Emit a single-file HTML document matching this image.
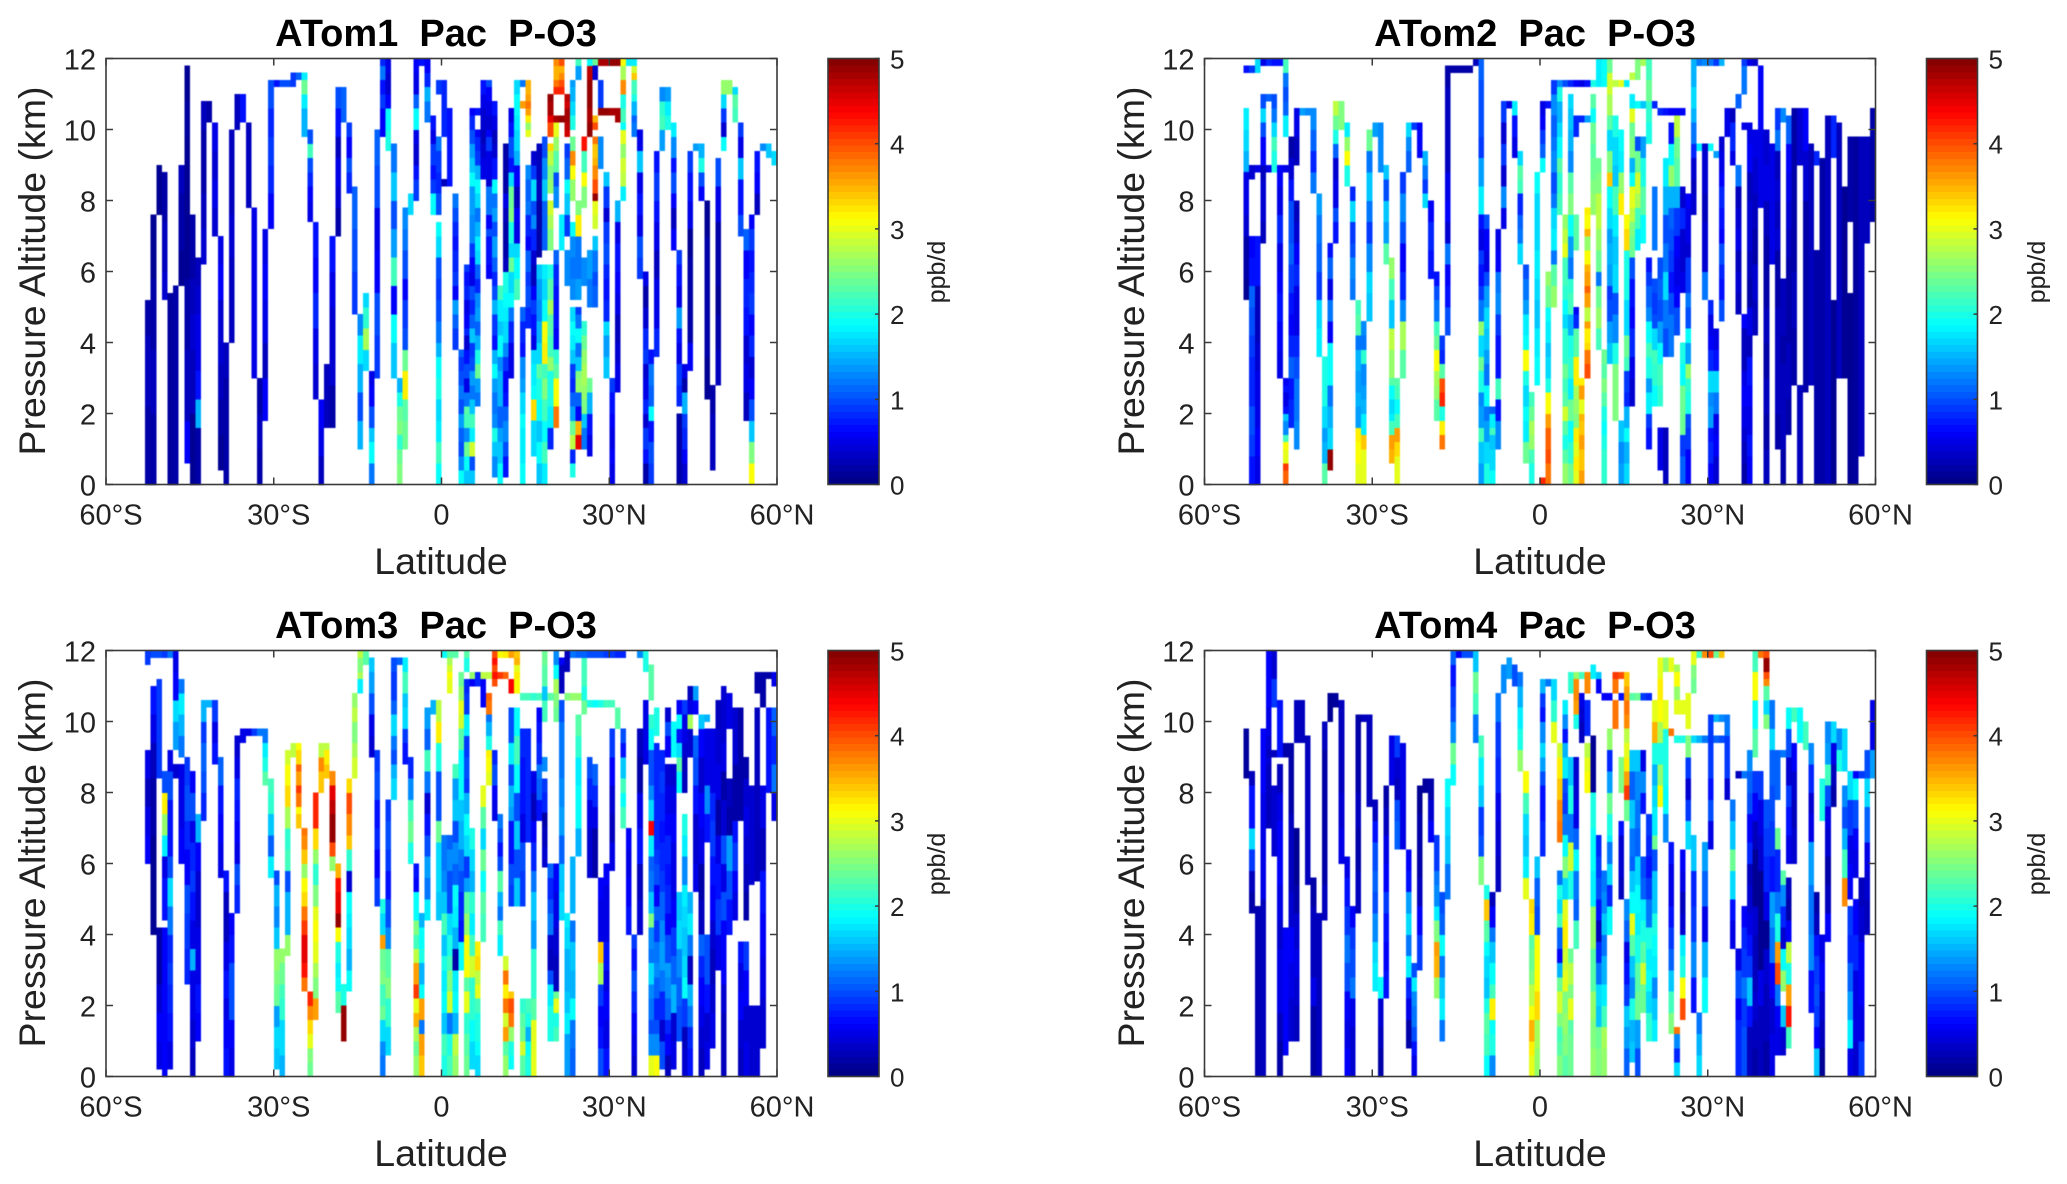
<!DOCTYPE html>
<html lang="en">
<head>
<meta charset="utf-8">
<title>ATom Pacific P-O3 latitude-altitude curtains</title>
<style>
html,body{margin:0;padding:0;background:#fff;width:2067px;height:1184px;overflow:hidden}
svg{display:block}
text{font-family:"Liberation Sans",Arial,sans-serif;fill:#222}
.title{font-weight:bold;font-size:38px;fill:#000;text-anchor:middle;white-space:pre}
.axis-title{font-size:37.5px;text-anchor:middle}
.cb-title{font-size:25px;text-anchor:middle}
.tick{font-size:29px}
</style>
</head>
<body>
<svg id="figure" xmlns="http://www.w3.org/2000/svg" width="2067" height="1184" viewBox="0 0 2067 1184">
  <rect width="2067" height="1184" fill="#fff"/>
  <g id="panel-0">
    <text class="title" x="436" y="46" xml:space="preserve">ATom1  Pac  P-O3</text>
    <text class="axis-title" x="441" y="574">Latitude</text>
    <text class="axis-title" transform="translate(45 271) rotate(-90)">Pressure Altitude (km)</text>
    <text class="cb-title" transform="translate(945 272) rotate(-90)">ppb/d</text>
  </g>
  <g id="panel-1">
    <text class="title" x="1535" y="46" xml:space="preserve">ATom2  Pac  P-O3</text>
    <text class="axis-title" x="1540" y="574">Latitude</text>
    <text class="axis-title" transform="translate(1144 271) rotate(-90)">Pressure Altitude (km)</text>
    <text class="cb-title" transform="translate(2045 272) rotate(-90)">ppb/d</text>
  </g>
  <g id="panel-2">
    <text class="title" x="436" y="638" xml:space="preserve">ATom3  Pac  P-O3</text>
    <text class="axis-title" x="441" y="1166">Latitude</text>
    <text class="axis-title" transform="translate(45 863) rotate(-90)">Pressure Altitude (km)</text>
    <text class="cb-title" transform="translate(945 864) rotate(-90)">ppb/d</text>
  </g>
  <g id="panel-3">
    <text class="title" x="1535" y="638" xml:space="preserve">ATom4  Pac  P-O3</text>
    <text class="axis-title" x="1540" y="1166">Latitude</text>
    <text class="axis-title" transform="translate(1144 863) rotate(-90)">Pressure Altitude (km)</text>
    <text class="cb-title" transform="translate(2045 864) rotate(-90)">ppb/d</text>
  </g>
</svg>
<script>
// Segment format: [latitude, altitude low (km), altitude high (km), P-O3 value(s) in ppb/d, low to high]
const latTickValues = [-60, -30, 0, 30, 60];
const latTickLabels = ["60°S", "30°S", "0", "30°N", "60°N"];
const altTickValues = [0, 2, 4, 6, 8, 10, 12];
const colorTickValues = [0, 1, 2, 3, 4, 5];

const atom1Segments = [
[-53,0,5.2,[.2,.2,.3,.3,.2]],[-52,0,7.6,[.2,.2,.3,.3,.2,.2,.1,.1]],[-51,7.6,9,.1],[-50,5.2,8.8,[.4,.3,.3,.2,.2]],[-49,0,5.4,.15],[-48,0,5.6,.2],
[-47,5.6,9,[.1,.2,.2,.3]],[-46,.6,11.8,[.6,.3,.3,.2,.2,.1,.1,.1,.1,.15,.1]],[-45,0,7.6,[.1,.1,.3,.3,.4,.3,.2,.2]],[-44,0,6.4,[.2,.2,1.5,.7,.5,.5,.4,.3]],
[-43,6.2,10.8,[.4,.3,.2,.2,.3]],[-42,10.2,10.8,.2],[-41,7,10.2,[.4,.5,.4,.5]],[-40,.4,7,[.1,.2,.3,.4,.4,.6,.5]],[-39,0,4,[.2,.2,.2,.3]],[-38,4,10,[.3,.3,.4,.3,.3]],
[-37,10,11,.3],[-36,10.2,11,.7],[-35,7.8,10.2,.3],[-34,3,7.8,.5],[-33,0,3,[.2,.3,.2]],[-32,1.8,7.2,[.6,.3,.5,.6,.5]],[-31,7.2,11.4,[.6,.8,.9,.8,1]],
[-30,11.2,11.4,.7],[-29,11.2,11.4,1],[-28,11.2,11.4,1],[-27,11.2,11.6,.9],[-26,11.4,11.6,1.1],[-25,9.8,11.6,[1.5,1.5,1.8,2.4,1.8]],[-24,7.4,10,[.5,.6,.8,1,2.2,1]],
[-23,2.4,7.4,[.4,.5,.8,.6,.7]],[-22,0,2.4,[.3,.5,.6]],[-21,1.6,3.4,.3],[-20,1.6,7,[.2,.4,.4,.5,.7]],[-19,7,11.2,[.2,.4,.5,.3,.7,1]],[-18,10.2,11.2,1.1],
[-17,8.2,10.2,[.8,1,.6,.9]],[-16,4.8,8.4,[.9,1,1.1]],[-15,1,4.8,[1.5,1,1.5,1.8,1.3]],[-14,3.2,5.4,[1.7,2.7,2.1,1.7]],[-13,0,3.2,[1.2,1.9,1.6,1,.6,.5]],
[-12,3,10,[.9,1,.6,.5,1,1.1]],[-11,9.8,12,[.6,.6,.9,.7,1.2,.8]],[-10,9.4,12,[2,1.9,.6,.4,.5]],[-9,3,9.6,[1.6,1.9,.6,2.2,1.4,1,1.6,1.2]],[-8,0,3,[2.5,2.4,2.1,2.5,2.4,2,1.5]],
[-7,1,7.8,[2.4,2.3,3.2,2.4,1,.9,.6,1,1.2,1.3]],[-6,7.6,8.2,1.7],[-5,8,12,[.9,.7,.4,.5,1.9,1.1,.5,.6]],[-4,11.8,12,.7],[-3,10.2,12,[1.2,1.5,.8,.6]],[-2,7.6,10.4,[1.9,.9,.7,.9,.5,.7]],
[-1,0,7.4,[1.9,2.2,1.8,1.7,2,1.9,1.5,1.2,1,.9,1,1.7,1.9]],[-1,7.6,9.8,[1,.8,.9,1.2]],[-1,11,11.4,.9],
[0,8.4,8.6,.3],[0,9.8,11.4,.8],[1,8.4,10.6,.7],[2,3.8,8.2,[.9,1.1,1.4,.6,.9,.8,.7,.8,1,1.2]],[3,0,3.8,[1.9,1.3,1,1.1,1.4,1,1.2,1,.9,1.1]],
[4,0,6.2,[1.6,1.9,2.4,1.3,2.2,2.3,1.2,.5,1,.7,.4,.8,.6,.5,.8,.7,.9]],[5,0,10.6,[1.6,1,2.9,1.8,2.2,1.6,1.2,1.4,1,.9,1.6,1.1,.8,1,.5,.6,.9,1.3,1.3,1.4,1.4,1.9,1.6,1.4,1,.8,.6]],
[6,2.2,10,[1.2,1.4,2.4,2,1.5,1.1,1.4,1.3,.8,1.1,1.7,1.8,1.5,1.2,1.7,1.9,1.5,.9,.8,.6]],[6,10.4,10.6,.7],[7,8.6,11.4,[.5,.4,.3,.4,.5,.7]],
[8,5.8,11.4,[.6,.7,.7,1,.6,1.2,1.2,.4,.5,.5,.9,.6,.4,.5,.6,1]],[9,.2,10.8,[1.3,1.6,2,1.3,1.2,1.4,1.9,1.5,.7,.9,1.5,1,.8,1.1,1.4,1,1.4,1.2,1.9,.7,.4,.3,.5,.7]],
[10,0,5.6,[1.9,1.6,1.4,1.1,1.5,1.5,1.3,1.9,1.6,1.8,2.2]],[11,.2,9.6,[.7,1,1.3,1.1,.7,.6,.9,1.3,1.7,1.8,1.9,2,.3,.2,.2,.3,.5,.2,.2,.2]],
[12,3,10.6,[.5,.5,.8,1.2,1.9,1.7,2.4,1.7,2,2.5,2.4,1.7,.7,1,.7,.5]],[13,5.2,11.4,[2.2,1.9,1.7,.5,.6,.3,.6,1.5,1.7,1.8,1.9,1.7]],
[14,0,5,[1.9,1.8,1.8,1.9,1.7,1.4,1.3,.7,.8,1.1]],[14,10.6,10.8,3.6],[14,11.2,11.4,1.2],[15,4.4,9,[.8,1,.9,1.1,.6,.8,1.2,1.1,1.3]],[15,9.8,11.4,[3,2.6,3.2,3.6,3.8,3.6,3.5,3.5]],
[16,1.8,9.4,[3.3,1.9,1.8,1.7,.5,.7,.9,.6,.3,.4,.8,1.3,1,1.7,.9,.4]],[16,0.8,1.8,1.7],
[17,6.4,9.6,[.2,.2,.3,.3]],[17,0,6.2,[1.6,1.9,1.6,1.9,2,2.3,1.7,1.5,1.3,1.4,1.6]],[18,6.6,9.8,[1.1,1.1,1.6,1.3,1]],[18,0,6.2,[1.8,2.2,1.9,2.2,2.5,2.2,3.2,3.1,1.9,1.7,1.8]],
[19,9.8,11,[4,4.5,4.8,4.8,4.9]],[19,8.2,9.6,[2.6,2.5,2.8,3.3]],[19,6.6,8,[2.5,2.7,2.9]],[19,1,6.2,[.8,1.8,2,2,2.6,2.2,2.3,2.7,2.3,2]],
[20,11,12,[4.2,3.8,3.5,3.5,3.7]],[20,10.2,10.4,4.8],[20,7.8,10.2,[1.3,1,2.3,2.6,3]],[20,3.8,6.6,[.6,.7,.7,.8,1.1]],[20,1.6,3.8,[3.8,3.1,3.1,2.3,2.1]],
[21,11,12,[4.2,4,3.7,3.5,4]],[21,10.2,10.4,4.9],[21,6.6,7.6,1.8],[22,9.8,11,[4.6,4.7,4.8,4.8,4.6,4.7]],[22,7,9.6,[.9,1.6,1.9,1.1,.9]],[22,5.6,6.6,1.3],
[23,10,11.4,[2,1.7,1.5,1.4]],[23,8,9.8,[2.6,3.1,3.7,2.4]],[23,5.2,7.4,[1.3,1.2,1.3,1.9]],[23,.2,5,[2,.8,2.8,2.4,1.4,1.1,.8,.9,1.6,1.8,1.9,1.7]],
[24,11.4,12,[1.4,2.2]],[24,5.2,8,[1.4,1.2,1.2,3.2,2.5]],[24,1,5,[4.5,3.5,.6,1.1,2.6,2.5,1.6,1.2,1.9,1.2,.9]],
[25,7.8,9.8,[2.5,3.1,2.2,4.3]],[25,5.6,6.4,1.3],[25,1,4.6,[1.2,1.6,2.5,2.6,2.7,2.6,2.4,2.1]],
[26,9.8,11.8,[4.9,4.8,4.9,4.9,4.7]],[26,11.8,12,1.9],[26,5,6.6,[1.2,1.4]],[26,.8,3,[.5,.7,1.5,2.4]],
[27,11.8,12,2.4],[27,11.4,11.8,.4],[27,10,10.4,[4,3.5]],[27,7.2,9.8,[2.9,3,4.9,4,3.7,3.5,3.4,3.8]],[27,5,7,[1.1,1,1.2,1.6]],
[28,11.8,12,4.8],[28,10.4,11.4,.9],[28,10.4,10.6,4.9],[28,8.9,9.8,1.3],[29,11.8,12,4.8],[29,10.4,10.6,4.9],[29,3,8.8,[1.6,1.4,1.7,.8,.7,.8,1,.9,.4,.9,1.6]],
[30,11.8,12,4.9],[30,10.4,10.6,4.8],[30,0,3,[.5,.6,.5,.6,.7,.9]],[31,11.8,12,4.9],[31,10.2,10.6,4.8],[31,2.6,8,[.5,.4,.3,.5,.6,.7,.5,1.5]],
[32,8.4,12,[2.8,2.9,2.6,3,1.9,2.2,2,3.7,2.7,3.1]],[32,8,8.4,1.8],[33,11.8,12,1.8],[34,9.8,11.8,[1.2,1.1,1.5,2,2.2,3.4,2.9]],[34,11.8,12,1.8],
[35,5.8,10,[.9,1,.5,.7,.5,1.6,.5]],[36,3.8,6,[.8,.4,.2,.5]],[36,0,3.8,[.2,.7,.9,.4,.8,.5,.4,.9]],[37,0,3.8,[.9,1,.7,1.9,1.1,1.2,.7]],
[38,3.6,9.4,[.8,.5,.5,.3,.5,.7,.9,.7]],[39,9.4,11.2,[1.4,2.2,2.1,1.3]],[40,10,11.2,[2,1.8,1.4]],[41,6.6,10.2,[.6,.3,.6,1,.7,1.3,1.8]],
[42,2.2,6.6,[.8,.9,.5,.7,1.4,.5,.7,.9]],[42,0,2,.2],[43,0,3.4,[.4,.6,.8,.9,1.5,.2,.5]],[44,3.2,9.4,[.6,.2,.2,.2,.1,.5,.7,.9]],[45,9.4,9.6,1.4],
[46,8,9.6,[.6,1,2,1.5]],[47,2.4,8,[.1,.2,.2,.2,.1]],[48,.4,2.8,[.3,.3,.2]],[49,2.8,9.2,[.3,.2,.1,.2,.2,.5,1]],[50,9.4,11.4,[1.9,.4,.9,1.7,2.6]],
[51,11,11.4,2.6],[52,10.2,11.2,[2.2,2.3,1.7]],[53,7,10.2,[1,.7,.7,1.6,.5,.9]],[54,1.8,7.2,[.3,.5,.4,.7,.8,.6,1.1]],
[55,0,7.6,[3.1,2.5,1.6,1,.6,.4,.8,.6,.9,.8,.7,.9,.6]],[56,7.6,9.4,[.3,.6,.7]],[57,9.4,9.6,1.3],[58,9.2,9.6,1.6],[59,9,9.4,1.7]
];

const atom2Segments = [
[-53,11.6,11.8,.7],[-53,8.8,10.6,[1.5,1.7,1.8]],[-53,5.2,8.8,[.1,.2,.2,.4,.5,.5]],[-52,8.6,9,.4],[-52,11.6,11.8,.9],[-52,0,7,[.7,.9,1,.8,.8,.9,1,1.1,.7,.6]],
[-51,0,7,[.5,.6,.5,.5,.4,.3,.3,.7,.7]],[-51,8.8,9,.5],[-51,11.6,12,1.7],[-50,6.8,11,[.3,.4,.4,.4,.3,.6,.6,1,1.7,1]],[-50,11.8,12,.5],[-49,10.8,11,1.1],[-49,11.8,12,.8],[-49,8.8,9,.5],
[-48,8.8,11,[2,2.2,1.7,1.2,1]],[-48,11.8,12,.7],[-47,3,9,[.5,.6,.7,.6,.5,.8,.5,.6]],[-47,11.8,12,.7],[-46,9.8,12,[1.8,1.1,1,1.2,2.2]],[-46,8.8,9,.5],
[-46,0,3,[3.9,4.1,3,3.1,2.2,1.3,1.6,.7,.5,.7,.6]],[-45,1.6,9.8,[.8,.7,1.1,.8,.6,.7,.9,1.1,1,1,.7,.4,.2]],[-44,1,8,[1.3,1.2,1.2,1,.8,.5,.5,.8,.6,.4,.3]],[-44,9,10.6,[.3,.3,.5,.5]],
[-43,10.4,10.6,1.4],[-42,10.4,10.6,1.3],[-41,8.2,10.6,[1.2,.8,1.1,1.3]],[-40,3.6,8.2,[1.8,1.7,.9,1.1,1.2,1.4]],[-39,0,3.6,[2.3,1.5,1.4,1.7,2,2,2]],
[-38,.4,6.8,[4.9,1.7,1.5,1.2,1.9,1.9,.6,1.2,.5,1.1,.7]],[-37,6.8,10.8,[.7,1,.5,.5,.4,1.1,2,2.4,2.8]],[-36,10,10.8,2.5],[-35,8.4,10.2,[2,3.1,2.6,1.8]],[-34,5.2,8.4,[1.2,1.3,1,.9,1.7,.8]],
[-33,0,5.2,[3,3.1,3.2,1.4,1.5,1.4,1.5,1.2,2.3,2.2]],[-32,0,4.6,[3,3,3.4,1.8,1.5,1.4,1.3,2.1,1.2,1.3]],[-31,4.6,10,[1.6,1.7,1.3,.9,1.2,1.6,1.2,2.4]],[-30,9.8,10.2,1.4],[-29,8.8,10.2,1.3],
[-28,6.2,9,[2.3,1.4,1.6,1,1.6]],[-27,3,6.4,[2.6,2.8,1.6,2.2,2.6]],[-27,.6,3,[3.5,3.6,2.2,1.8,1.7,1.9,2.3]],[-26,0,3,[3,3,3.3,3.6,2.2,1.9,2.2,2.3]],[-25,3,8.8,[2.3,2.7,1.3,.8,.6,1,1.3,.9]],
[-24,8.8,10.2,[1.1,1.3,1.7]],[-23,10,10.2,.9],[-22,9.2,10.2,.6],[-21,7.8,9.4,[1.7,.9,1.2,1.5]],[-20,5.8,8,[.7,.8,.6]],[-19,1.8,6,[2.3,2.6,2.7,3.1,2.4,2.2,1.2,1,.7]],
[-18,1,4.2,[3.8,3.2,2,4.2,4,2.3,.8,.9]],[-17,4.2,11.8,[1,.7,.6,1.2,.4,.6,.5,.3,.3,.3,.3,.2]],[-16,11.6,11.8,.2],[-15,11.6,11.8,.2],[-14,11.6,11.8,.2],[-13,11.6,11.8,.2],[-12,11.8,12,.3],
[-11,7.6,12,[1.8,1.4,.9,1,1,1.1]],[-11,0,7.6,[1.4,1.6,2.2,1.4,1.3,2,2.4,1.7,2.6,1.2,.9,.7,.9,.5,.7]],[-10,0,7.6,[2,1.7,1.4,1.2,1.9,1.2,1.4,1.6,1.7,1.4,1,.5,.6,1]],
[-9,0,2.2,[1.9,1.7,1.7,1.6,2.2,1.8,1.1]],[-8,1,7.2,[1.3,.7,2.2,.7,.7,.9,1.3,1.2,.6,.5]],[-7,7.2,10.8,[.5,1.3,.4,.9,.4,.9]],[-6,10.6,10.8,.5],[-5,9.2,10.8,[.5,.7,1.8]],
[-4,6.2,9.4,[1.7,1.2,1.1,.8,2.2,2.3,1.7]],[-3,.6,6.2,[2.4,1.8,1.9,1.7,2,3.1,1.9,1.8,1.4,1.2,1]],[-2,0,2.6,[2,2.2,2.6,2.7,2.4,2.2]],[-1,2.8,8.8,[1.9,1.8,1.6,1.7,1.8,1.7,1.7,1.9]],
[0,8.8,10.8,[1.9,1.1,.9,.6,.5]],[0,0,.2,4.2],[1,0,6,[3.8,4,3.9,3.6,3.1,2,1.7,1.6,1.8,1.9,2.4,2.6]],[1,10.6,10.8,.7],[2,5,11.4,[2.6,2.3,1.2,1.8,1.7,1.2,1,1.3,1.2,1.1,1.3,.9]],
[3,7.6,11.2,[2.2,2.1,2.3,1.9,1.7,1.5,2]],[4,0,7.6,[2.6,2.3,2,2.3,2.9,2.3,2.2,2.4,2.1,2.1,1.7,1.9,2.1,2.2,2.2,3,2.8,2.6]],[3,11.2,11.4,1.3],[4,11.2,11.4,1],
[5,0,11,[2.4,2.1,1.9,2.4,1.8,2.1,2,1.5,2.2,2.1,1.2,1.4,1.9,2.5,2.3,1.3,1.5,1.6,1.7]],[5,11.2,11.4,.8],[6,0,5,[3,3.2,3,3.2,2.5,2.6,2.7,3.2,3.2,2.3,2.3,.8,.6]],[6,9.8,10.4,.8],[6,6.6,7.6,2.3],[6,11.2,11.4,.6],
[7,0,3,[3.6,3.4,3.4,3.6,3.4,3.5,3,3.6,3.2]],[7,10.2,10.4,.8],[7,11.2,11.4,.5],[8,3,7.8,[4,3.8,3.3,3.2,3.6,2.8,3.6,3.9,3.6,3.5,3.1,2.6,3.5,3.1,3.2]],[8,10.2,10.4,1.4],[8,11.2,11.4,.7],
[9,7.6,11,[2.6,2.5,2.4,2.3,2.4,1.9,2.3]],[9,11.2,11.4,2],[10,3.8,9.2,[2.2,2.6,2.4,1.2,2.4,2.6,2.8,2.8,2.5,2.4]],[10,11.2,12,1.8],[11,0,3.8,[2.1,2.1,2,1.9,2,2.3,2.5,2.3,2.4]],[11,11.2,12,1.9],
[12,3.4,12,[1.6,1.4,1,.9,1.4,1.5,1.4,1.7,1.9,3.4,2.5,1.7,2.3,2.7,2.9,2.4]],[13,1.8,10.4,[2.5,2.5,2,1.3,1,1.7,1.6,1.8,2.2,1.6,1.7,2]],[13,11.2,11.4,2.8],[14,0,1.8,[1.4,1.3,1.6]],[14,7.6,10,[3.2,2.6,1.8,1.9]],[14,11.2,11.4,3],
[15,0,7.6,[1.7,1.5,1.9,1.5,.8,.9,2.2,2.4,1.7,1.7,2,2,2,3.3,3.1]],[15,11.2,11.4,1.8],[16,6.4,11,[2.4,2.5,2.8,3,1.9,1.5,2.5,2.4,3,1.8]],[16,2.2,6.4,[.4,.5,.8,.6,.7,1]],[16,11.4,11.6,2.8],
[17,6.6,9.8,[1.8,2.2,2.7,2.9,2.4,1]],[17,11.4,12,2.5],[17,10.6,10.8,1.9],[18,6.8,9.8,[1.9,2.3,2,1.4]],[18,11.8,12,2.7],[18,10.6,10.8,1.6],[19,9.6,12,[2,2.1,2.4,2.2]],[19,1,6.4,[.7,.9,1.8,1.4,2,2.2,1.9,1.3,1.1,.9,.7]],
[20,6.6,8.4,1.2],[20,2.2,5.8,[1.9,2.1,2.2,1.7,1,.9,1]],[20,10.6,10.8,.8],[21,2.2,6.4,[2.1,2.2,1.9,1.4,1,1.1,1]],[21,.4,1.6,.5],[21,10.4,10.6,.8],[22,3.6,9.2,[1,1.2,1.7,1.2,1,1.5,1.8]],[22,0,1.6,.3],[22,10.4,10.6,.7],
[23,3.6,10.2,[1.2,1.2,1,.7,.9,1,1.1,1.5,2.6,1.9,.7]],[23,10.4,10.6,.6],[24,7,10.4,[.9,1.5,2.3,2.4,2.8]],[24,4.2,7,[1,.6,.5,.6]],[24,10.4,10.6,.6],[25,5.4,8.4,[.5,.4,.4,.8,.4]],[25,0,4,[1.1,.9,2.4,2.4,1.9,2]],[25,10.4,10.6,.6],
[26,0,8.2,[.6,.6,.9,1,2,2.1,2.6,1.4,1.9,1,1.2,.9,.9,.4,.5,.5,.6]],[27,7.6,12,[.4,.3,.4,.8,1.2,1.5,1.7,1.5,1.5]],[28,11.8,12,1.2],[28,9.4,9.6,1.8],[29,5.2,9.6,[1.2,.4,.4,.3,.4,.4]],[29,11.8,12,1.3],
[30,0,5.2,[.6,.8,.7,1.4,1.3,1.7,.8,.6,.5,.8]],[30,11.8,12,1.2],[30,9.4,9.6,1.9],[31,0,4.4,[.4,.6,.5,1.2,1.7,.7,.5]],[31,11.8,12,.9],[31,9.2,9.4,1.4],[32,4.6,9.8,[1,.7,.8,1,.6,.7,.8,.6,.5,.4]],[32,11.8,12,1.5],
[33,9.8,10.6,.5],[34,9,10.6,[.5,.8,.8,.3]],[35,10.6,11,1.1],[35,4.8,9,[.3,.4,.3,.5,.4,.3,1.2]],[36,11,12,[1.2,1.2,1.2,.9]],[36,10,10.2,.5],[36,0,4.8,[.2,.3,.4,.5,.6,.5,.3,.3,.6]],[37,11.8,12,.5],
[37,4.2,10.2,[.5,.2,.3,.4,.4,.3,.6,.5]],[37,0,4.2,[.6,.7,.5,.6,.7,.3]],[38,11.8,12,.4],[38,4.2,10,[.3,.4,.2,.3,.4,.5]],[39,10,11.8,.6],[39,7.8,10,.5],[40,0,10,[.3,.2,.3,.2,.3,.2,.2,.3,.5,.4]],
[41,6.2,9.6,.5],[42,5.8,10.6,[.2,.4,.3,.4,.3,1.2,.9]],[42,1,5.8,[.2,.3,.3,.3,.2]],[43,0,5.8,[.2,.3,.3,.3,.2,.3,.3]],[43,10.2,10.6,1.3],[44,1.4,10.4,[.2,.3,.3,.2,.2,.2,.3,.4,.5,.6,1.1]],
[45,2.8,10.6,[.2,.3,.2,.2,.2]],[46,9,10.6,.4],[46,0,2.8,.3],[47,2.6,10.6,[.2,.2,.2,.2,.4,.6]],[48,2.8,9.6,.3],[49,0,6.6,.2],[49,9,9.4,.8],[50,0,9.2,.2],[51,0,10.4,.3],[52,9.2,10.4,.8],[52,0,5.2,.1],
[53,3,10.2,.3],[54,3,8.4,.1],[55,0,5.4,.1],[55,7.4,9.8,.2],[56,0,9.8,.15],[57,.8,9.8,.3],[58,6.8,9.8,.3],[59,7.4,10.6,.2]
];

const atom3Segments = [
[-53,11.6,12,.9],[-53,6,9.2,[.6,.5,.3,.5]],[-52,11.8,12,1],[-52,4,11,[.1,.1,.1,.2,.2,.3,.5,.7]],[-51,11.8,12,1],[-51,8.4,11.2,.9],[-51,.2,4.2,[.5,.6,.4,.2,.2]],[-50,11.8,12,.9],
[-50,4.4,8.6,[.7,.7,.5,1.8,2.6,3.2,1]],[-50,0,4.2,.6],[-49,.2,9.2,[.5,.7,.8,.9,.8,1.2,1.7,1,.7,.7,1,.5]],[-49,11.8,12,1.2],[-48,9.2,12,[1.4,1.7,.6,.5]],[-48,8.4,8.8,.4],
[-47,9,11.2,[1.2,1.5,1.8,1.2]],[-47,6,8.8,[.6,.5,.5]],[-46,2.6,9,[.8,.9,1,.6,.8,1,.9]],[-45,0,8.6,[.3,.4,.5,.5,1.5,.5,.7,.9,.8,.5,1,.6]],[-44,1,7.4,[.6,.7,.5,.5,.4,.4,.6,1.5]],
[-43,7.2,10.6,[.8,1,1.1,.9,1.5]],[-42,10.4,10.6,1.5],[-41,8.8,10.6,[.7,.5,.9]],[-40,5.6,9,[.5,.6,.7,1.1]],[-39,0,5.8,[.7,.6,.5,.7,.5,.3,.3,.7]],[-38,0,4.6,[.5,.6,1,1,.7,.6]],
[-37,4.6,9.6,[.8,1,.5,.6,.7,.8,.5,.4]],[-36,9.4,9.8,.5],[-35,9.6,9.8,.5],[-34,9.6,9.8,.9],[-33,9.6,9.8,1.2],[-32,8.2,9.8,[2.3,2,1.8,1.2]],[-31,5.6,8.4,[1.8,1.1,1.6,2.1,2.2]],
[-30,.2,5.8,[1.6,1.7,1.4,2.4,2.5,2.6,1.6,1.3,1.5,1]],[-29,0,3.6,[1.5,1.7,1.7,2.1,2.2,2.4,2.6]],[-28,3.4,9.2,[2.6,1.5,1.5,1,2.2,2.1,2.7,3.3,3.1,2.9]],[-27,9,9.4,2.8],
[-26,7,9.4,[3.4,3.1,3.8,4.1,3.6,3.9,3.3,3.1]],[-25,2.4,7,[3.8,4.3,4.5,4.5,4.1,3.8,3.3,3.1,2.6,3.4,3.7,3.8]],[-24,0,2.4,[2.4,2.5,3,3.3,3.7,4.2]],
[-23,1.6,8,[3.6,2.5,2.7,3,3.1,3,2.5,2.1,2.6,3.3,4.2,4.2]],[-22,8,9.4,[3.4,3.7,2.8]],[-21,8.4,9.4,[3.4,3.2,2.8]],[-20,5.8,8.6,[2.6,4,4.9,4.9,4.7,4.5,3.7]],
[-19,1.8,6,[2.3,1.9,1.8,2,3.1,4.9,4.5,4.3,3.5]],[-18,2,2.6,2],[-18,1,2,4.9],[-17,2.4,8.4,[1.9,1.5,1.7,1.8,1.9,.4,2.1,3.4,3.7,4,3.3]],[-16,8.4,10.8,[2.9,2.7,2.5,2.8,2.6]],
[-15,10.8,12,[1.8,2.7,2.5,2.8]],[-14,11.6,12,2.3],[-13,9,11.8,[.4,.5,1,1.4,1.6]],[-12,4.8,9.2,[.9,.6,.8,.7,1,.9]],[-11,0,5,[1.2,1.3,1.7,2.4,2.2,2.5,2.4,3.6,1.7,2]],
[-10,.6,7.8,[1.7,2.1,2.5,2.3,1.3,1,.7,.9,1,.9]],[-9,7.8,11.8,[1.7,1.5,1,1.2,1.7,1.1,.9,.9,1]],[-8,11.6,11.8,1.1],[-7,8.8,11.8,[.7,.9,1.7,1.6,2.2,1.8]],[-6,6,9,[2,2.4,2.2,1.3,.8]],
[-5,0,5.2,[2.6,2.4,2.7,3.5,3,4.1,3.6,2.8,2.2,2.5,1.9,1.9]],[-5,5.2,6,[.6,.7]],[-4,0,4.6,[3.4,3.6,1.2,3.6,1.9,1.5,2,1.9,1.5]],[-3,4.4,10.4,[1.8,1.2,1.4,1,.7,.4,1.2,2.2,1.1,1.4]],
[-2,10.2,10.6,1.5],[-1,4.4,10.6,[1.6,1.7,1.7,2.4,1,1,2,3.2,2.8]],[0,0,6.8,[2,2.2,1.6,1.9,1.8,2,1.6,2.2,1.6,1.3,1.2,1.2]],[0,11.8,12,1.9],[1,10.8,12,[3,3,3.1,2.9,2.7,2.3]],
[1,0,6.8,[2.2,2,1.2,2.9,2.5,2.2,2,1.7,1,1,1.3,1.1]],[2,0,8.8,[2.6,2.8,1.5,1.9,1.8,.2,1.5,1.8,1.9,1.1,1.3,1,1.6,1.4,2.2]],[2,11.8,12,2.3],
[3,9.8,11.4,[2.9,3,2.6,2.4]],[3,3,9.8,[1.9,.7,.8,1,1.2,1.5,1.6,1.9,1.9,2.3]],[4,11.4,12,[2,2.3]],[4,0,11.2,[2.4,2.3,2.1,3,2.3,3.1,3.1,2.6,2.3,1.4,.9,1.7,1.9,1.5,.9,1,.9,1.8,.9,.8]],
[5,.2,7,[1.7,1.9,2.1,2.1,2.9,2.2,1.8,2.1,1.5,1.7,2]],[5,11.2,11.4,2.6],[5,11,11.2,.6],[6,0,3.8,[1.7,1.9,2,2,2.2,3,2.8,3.3,3.2]],[6,11,11.4,.8],[7,10.4,11.2,.6],
[7,3.8,8.2,[2.2,2.3,1.9,2.4,1.7,2.3,3]],[7,11.2,11.4,2.8],[8,8.2,10.8,[3,3.1,3.2,2,1.5,1.2,3.8,3.9]],[8,11.2,11.4,2.8],[9,11,12,[4,4.3,4,4.3,4]],[9,7.2,9.2,[.5,.6,1,.8]],
[10,3.4,7.4,[1.8,2.2,1.2,1.5,2.3,1,.7,1,1.2]],[10,11.8,12,3.1],[10,11.2,11.4,4.1],[11,0,3.4,[2.6,2.3,3.6,2.9,3.8,3.2,3.8,2.9]],[11,11.8,12,3.2],[11,11.2,11.4,3.9],
[12,4.8,10.4,[.9,1,.7,.7,1.4,1.5,1,1.8,1,1]],[12,.2,2.4,[1.9,2,2.6,3.8,4,3.4]],[12,10.8,11.2,4.4],[12,11.8,12,3.6],[13,10.8,12,[3.1,3.2,3,3.5,3.4]],[13,4.8,10.4,[1.6,1,1.6,1,1.9,2.2,1.9]],
[14,4.8,9.8,[.9,1,.5,.7,.7,.8]],[14,0,2.2,[2.3,2.9,2.4,2.3,2.1]],[14,10.6,10.8,2.2],[15,6.6,9.8,.8],[15,0,2.2,[2,1.9,1.5,2,2.2]],[15,10.6,10.8,2.2],
[16,0,8.6,[3,3,2.3,2.1,2.1,1.4,1.6,1.2,.8,.6,.3,.5]],[16,10.6,10.8,2.1],[17,7.2,10.4,[.7,1.1,1.2,.8,.7,.6]],[17,10.6,10.8,2.2],[18,5.9,8.4,[.4,.3,.2,.8,.9]],[18,8.6,9,1.3],[18,10,12,[2.2,1.6,2.3,2.4]],
[19,1,6,[2,2,1.8,1,.3,.4,1.2,1,.8,1.1]],[19,10.6,10.8,2.3],[20,10,12,[2.4,2.5,2.7,1.9,1.3]],[20,2.4,6,[.3,.4,.5,.6]],[20,1,2.4,[2.2,2,3,2.4]],[21,10.8,11.8,[.3,.3,.6]],[21,4.4,10.6,[1.7,1.6,1.1,1.4,1.3,1.2,1.2,1]],
[22,11.4,12,.3],[22,0,4.6,[1.4,1.4,1.8,1.6,1.5,1.5,1.7,1.8]],[22,10.6,10.8,2.5],[23,11.8,12,1.2],[23,4.6,6.2,1.5],[23,0,4.4,[1.1,1.2,1.9,1.5,1.6,1.2]],[23,10.6,10.8,2.6],
[24,6.2,10.2,[1.5,1.9,1.9,1.8,2.1,2.3]],[24,11.8,12,1.1],[24,10.6,10.8,2.6],[25,10.2,11.8,[2.4,2,2.2,2.2]],[25,11.8,12,1.1],[26,5.6,9,[.4,.4,.5,.8,1]],[26,11.8,12,1],[26,10.4,10.6,2],
[27,5.6,8.8,[.2,.2,.5,.8,1.1]],[27,11.8,12,1],[27,10.4,10.6,1.9],[28,0,5.6,[1,.7,.6,.9,2.7,3.4,.5,.5,.6]],[28,11.8,12,1],[28,10.4,10.6,2],[29,0,6,[.7,.5,.6,.5,.7,.5,.5,.6]],[29,11.8,12,.9],[29,10.4,10.6,2.2],
[30,5.8,9.8,[.5,.3,.4,.6,.9]],[30,11.8,12,.9],[30,10.4,10.6,2.2],[31,9.8,10.4,2.3],[31,11.8,12,.8],[32,7,9.8,[2.2,1.9,2.2,1.6,.7,1]],[32,11.8,12,.8],[33,4,7,[.7,.6,.5,.6]],
[34,0,4,[.4,.5,.6,.8,1,.7,.9]],[35,4,9.8,[.4,.3,.7,.5,.2,.3]],[35,11.8,12,1.3],[36,11.4,12,2],[36,8.8,10.6,.5],[37,10.6,11.6,2.3],
[37,0,10.2,[3,1.3,1,1.2,1.3,1.7,1.2,1.3,2.5,1.6,1.2,1.1,1.8,4.4,1.7,1.3,1,1,1.9,2.1]],[38,0,7.4,[3.1,1.3,1,.8,1.1,1.3,1.2,.9,1.1,.6,1,.9,.8,.8]],[38,7.4,9.4,.8],[38,9.6,10.4,2],
[39,.2,9.2,[1,.4,.8,1.2,1.4,1.3,1.1,.9,.8,.7,.8,.9,.8]],[40,9,10.4,[.6,1,.4]],[40,3.2,8.8,[1,.6,.8,.7,.8,.6,.5,.4]],[40,0,3.2,[.3,.6,.8,1.1,1.3,1.4]],[41,9,10,1.9],
[41,.2,8.8,[.5,.4,1.5,1.1,.9,.6,.5,.5,.6,.5,.4]],[42,8,10.6,[1.9,2.3,1.7,.7,1.9,.6]],[42,1,5.2,[1,1.1,1.3,1.7,1.6]],[43,8,10.6,[.3,.3,.4,.5,.5,.9]],[43,0,7.4,[.4,.3,.9,1.9,1.7,1.6,1.7,1.8,1.3,1.8,2]],
[44,9,11,[.4,.4,2.7,.5,.3]],[44,0,5.2,[.7,.8,1.2,1.5,.3,1.2,1.8,1.5]],[45,10.2,11,[.6,1.4]],[45,5.2,9.6,[.5,.4,.4,.7,1,1.1]],[46,4,9.8,[.3,.2,.5,.6,.4,.6]],[46,0,4,[.3,.4,.5,.6,.8,1.1]],[46,9.8,10.2,1.6],
[47,.2,4,[.5,.4,.7,1,1]],[47,6.6,9.8,[.7,1.3,.5,.5]],[47,10,10.2,1.5],[48,.8,9.8,[.5,.4,.3,.4,.6,.7,.9,.8,.5,.5]],[49,3,10.6,[.5,.9,.7,.5,.2,.5,.4,.3]],
[50,0,11,[.3,.3,.4,.6,.6,1,.5,1,.4,.2,.5,.4,.4]],[51,9.8,10.8,.5],[51,4,8.4,[.7,1,1.4,.2,.3]],[52,7.2,10.4,[.2,.2,.4,.4]],[52,4.4,7.2,[.5,.6,.9,.7]],[53,0,3.8,[.3,.4,.6,.5,.7]],[53,7.2,10.4,.2],
[54,4.4,9,[.2,.3,.4,.5,.4,.2]],[54,0,3.8,[.5,.4,.6,.9]],[55,5.4,8.2,.4],[55,0,2,.4],[56,10.8,11.4,.2],[56,0,2,.4],[56,5.5,10.4,.3],[57,.8,8.2,[.4,.5,.6,.7,.3,.5]],[57,10.4,11.4,.2],
[58,8,10.4,.7],[58,11.2,11.4,.2],[59,11,11.4,.5],[59,7.2,10.4,[.5,1.2,.8,1.1]]
];

const atom4Segments = [
[-53,8.4,9.8,.15],[-52,4.6,8.6,[.2,.3,.9,1.7,.7,.7,.3]],[-51,0,4.8,.25],[-50,0,9.8,[.3,.3,.3,.3,.3,.5,.5,.5,.6,.6]],[-49,7,12,[.3,.3,.4,.5,.6,.6]],[-49,9,9.2,.3],[-48,10.4,12,[.9,.4]],
[-48,6.2,8.2,.4],[-48,9,9.2,.3],[-47,9,10.6,.7],[-47,0,8.8,[.2,.3,.5,.5,.4,.5,.6,.6,.5,.3]],[-46,.6,4.2,.6],[-46,9,9.4,.2],[-45,1,9.4,[.4,.5,.6,.4,.3,.3,.2,.2]],[-44,9.4,10.6,.3],
[-44,1,7,[.3,.4,.5,.4,.2,.1,.1]],[-43,9.4,10.6,.3],[-42,5.4,9.6,.3],[-41,0,5.6,[.2,.2,.5,.3,.3,.2]],[-40,0,4.6,.3],[-39,4.4,10,[.3,.2,.2,.2,.2,.3]],[-38,10,10.8,.1],[-37,10.4,10.8,.15],
[-36,6,10.6,[.5,.4,.3,.3,.3]],[-35,0,6.2,[.6,.5,.6,1,1.2,.9,.7,.5]],[-34,0,4.8,[.4,.4,.5,1.2,1,.9,.6]],[-33,4.6,10.2,[.3,.2,.3,.2,.2]],[-32,10,10.2,.3],[-31,7.6,10.2,.3],
[-30,2.4,7.8,[1.8,1.7,1.3,1,1.1,1,.7,.3]],[-29,0,2.8,[.2,.3,.4,1.9]],[-28,2.2,8.2,[.7,.6,.7,.9,.6,.5,.3,.2]],[-27,8.2,9.6,.5],[-26,6.4,9.6,[1.1,1,.3,.4,.9]],[-25,6.4,9.4,.5],
[-24,.8,6.4,[.2,.5,.8,1.8,1.2,1.7,1.4,.7,.6]],[-23,0,3.2,[.5,.7,1,1.2,1.3,1.8,1]],[-22,3,8.2,[.9,.6,.3,.2,.2,.1]],[-21,8,8.4,.15],[-20,6.6,8.4,[.6,.4,.2]],
[-19,2.2,6.8,[2.6,3.5,3.6,2.5,1.8,1.3,1.2,.9,.9]],[-18,1,5.2,[1.2,1.8,1.6,1.2,1.9,1.1,1]],[-17,5,8.4,[1.2,1.6,1.7,1.9]],[-16,8.2,12,[1.9,2.4,1.3,1,.9,.7,1.1]],[-15,11.8,12,.6],[-14,11.8,12,1],[-13,11.8,12,1],
[-12,9.4,12,[1.2,2.2,2.4,1.6]],[-11,5.4,9.6,[2.5,1,.9,1.6,1.8,2.2]],[-10,0,5.4,[1.9,2.2,2.3,2,1.6,1.7,1.9,2.3,3.4,2]],[-9,0,5.2,[1.3,2,1.9,3.2,2.2,1.9,1.6,1.2,.6,.3]],
[-8,5.2,10.8,[.3,.4,.5,.8,.9,1.2]],[-7,10.8,11.6,1.3],[-6,11.2,11.8,1.4],[-5,11,11.6,1],[-4,8.6,11.4,[2.6,2,1.8,1.5,1.2]],[-3,5,8.6,[3,1.8,1.6,1.7,2.2,3.1]],[-2,0,5,[3,3.2,3.5,3.1,2.8,2.5,2.4,2.3,3.2,3.3]],
[-1,0,6.2,[2.6,2.7,3.3,3.1,3.1,1,1.1,1.6]],[0,6.2,11.2,[.8,.8,.7,.7,1,1.4,1.7,1.3,.7,.9,1.5]],[1,11,11.2,1.2],[2,9.4,11.2,[3,2.1,1.7]],[3,6.6,9.4,[3.8,3.7,3.4,3.2,2.9]],
[3,0,5.8,[2.5,2.3,2.2,2.5,2.9,2.4,1.5,.6,1.1,2.2,1.7,2,1.2]],[4,9.4,10.6,[.7,1.3,1.8]],[4,6.8,9.4,[1.2,.9,1,1.8,1.5]],[4,3.6,6.8,[3.2,3,1.7,2.5,1.9]],[4,0,3.6,[2.3,2.5,2.6,2.5,3,2.9]],
[5,5,9,[2,2.9,1.2,2,1.6]],[5,0,3.6,[2.4,2.4,2.3,3,2.5,2.8,2.4]],[5,10.8,11.4,2.1],[6,9.8,11.4,[2,3.6,3.6,3.7,3.7,2.6]],[6,3.6,9,[2.2,1.1,1.2,1.9,1.1,.5,.4,.4]],[7,11.2,11.4,2.2],[7,9.4,10.8,[.3,.4,.5]],
[8,9.6,10.6,.8],[8,8,9.4,[3.1,3,2.8]],[8,10.8,11.4,3.7],[9,11.2,11.6,1.8],[9,8,9.6,.1],[9,2.4,8,[2.3,2.6,1.8,1.9,2]],[9,0,2.4,[2.6,2.5,2.6]],[10,10.8,11.4,[.6,1.6]],
[10,0,6.8,[2.5,2.4,1.6,1.7,1.2,.8,.3,.7,1,.9,.8]],[11,10.6,10.8,.6],[11,0,5.8,[2.6,2.7,2.2,1.8,1.5,1.2,1.6,1.3,1.2]],[12,6.2,9.8,[1.8,2,2.4,1.4,.8,2.6]],[12,4,6.6,[1.9,.8,1.7,1.2]],[12,10.6,10.8,.6],
[13,10.8,11.4,[3.8,4.1]],[13,9.8,10.6,3.8],[14,11.2,11.4,4],[14,5,7.2,[.3,.4,.4,.7]],[14,8,9,2.5],[14,10.6,10.8,.7],[15,9.8,11.4,[3.7,3.8,3.6,3.4]],[15,7.2,9.8,[2.4,4.1,3.6,3.2,3,2.8]],
[15,0,5,[1.1,1.4,1.6,.9,.7,.5,1.1,1.3]],[16,10.6,10.8,2.3],[16,6.2,9.2,[1.2,1.6,1.1,1.6]],[16,.4,6.2,[1.6,1.5,2,1.3,1.6,2.3,3,1.9,1.6,1.1]],[17,10.6,10.8,2.4],
[17,0,9.2,[1,1.4,2.4,2.3,2,1.8,1.9,1.7,1.1,1.2,1.3,1.6]],[18,10.6,10.8,.9],[18,7.4,9.2,[.7,1.3,.5]],[18,1.8,6.2,[2.4,2.9,2.3,2,1.8,1.1,1]],[19,10.6,10.8,.8],[19,1,7.4,[2.1,1.7,1.9,1.8,2,1.2,.9,.7,.8,.9]],
[20,1,6.8,[1.8,1.6,1.3,1.8,1.9,2,1.6,1.6,1,2.4]],[20,6.8,10.6,[1.8,1.7,1.5,2,3.5,3]],[21,7.6,11.8,[3.1,2.6,2,2.7,3.1,3.2,3]],[22,6.6,10.6,[1.3,1.9,2,2,3]],[22,11.4,11.8,2.6],
[23,1.2,6.6,[2.5,2.2,1.6,1.1,.9,.7,.5,.5,.7]],[23,11.4,11.8,3],[23,9.6,9.8,3.8],[24,10.6,11.6,[2.6,3.1,2.7]],[24,10.2,10.6,3],[24,0,1.4,[1.7,.8,1.3,3.8]],[24,9.4,9.6,2],
[25,1.6,6.4,[4,3.1,2,1.8,.4,.3,.5,.6]],[25,10.2,10.6,3],[25,9.4,9.6,2],[26,6.4,9.6,[1.7,.9,.4,.9,2.5]],[26,9.8,10.8,3],[27,10.8,12,[2.4,2.5,3]],[27,9.4,9.6,1.7],[27,1.8,6.8,[.7,1.3,.9,.8,1.6]],
[28,11.8,12,2.2],[28,9.4,9.6,1.5],[28,0,1.8,[1.7,1.5,1.2]],[29,11.8,12,3.7],[29,9.4,9.6,1.2],[29,1.8,6.6,[1.9,1.5,.5,1.1,1.4]],[30,11.8,12,4],[30,6.4,10.2,[.5,1,.7,.9,.9,.9]],
[31,11.8,12,2.4],[31,10,10.2,1.5],[31,9.4,9.6,1.1],[32,11.8,12,3.4],[32,10,10.2,1.3],[32,9.4,9.6,1],[33,7.8,10.2,[.4,.9,.9,1.2]],[34,3.6,7.8,[.5,.7,1.7,2.4,1.6,1.2]],
[35,8.4,8.6,.3],[35,0,3.6,[.8,.8,.6,1,.5]],[36,8.4,8.6,1.2],[36,0,4.8,[1,1,.9,1.2,.9,.8,.6]],[37,0,9.2,[.3,.3,.7,1.6,.9,.7,.5,.4,.3,.8,.6,1,1.1,1.3]],[38,9,12,[2.3,1.9,3.1,2.2]],
[38,0,8.6,[.2,.3,.4,.3,.3,.4,.1,.1,.3,.6,.9]],[39,3,8.6,[.1,.1,.1,.4,.5,.9]],[39,0,3,[.3,.3,.5]],[39,11.8,12,3.8],[40,11,12,[3.7,4,4.9,4.9,4]],[40,9.8,11,[2.5,1.7,2.3]],
[40,0,7.8,[.2,.3,.3,.4,.1,.5,.8,.9,1]],[41,9.2,10.6,[1.7,1.2,1.2]],[41,0,9.2,[.5,.4,.6,1.2,1.4,.7,.9,1,1.1]],[42,.6,7,[.5,.6,1.2,4,3.6,2,1.2,.8,.8,2.4]],[42,7.8,9.2,1.1],
[43,2.4,5.8,[2.6,1.9,.4,.8,1.3,2.3]],[43,.6,2,[.4,1.6]],[43,9,9.2,1.2],[44,6,10.4,[.5,.7,.9,.4,1,1.9]],[44,.8,5.6,[2.2,4.3,3.6,2,2.8,.6,.2,.3]],[45,6,9.4,[.4,.3,.4,.6]],[45,10,10.4,2.2],
[46,9.4,10.4,1.9],[47,9.2,10,2.2],[48,6.6,9.4,[.5,.4,.8,1.3]],[48,4,6.6,[1.2,1.4]],[48,1.8,4,[.7,1.3]],[49,0,5.2,[1.6,.6,.9,1,.9,.7,.3,.2]],[50,0,4,[.1,.3,.4,.6,.5]],[50,7.2,8.4,2],
[51,7.6,10,[1,2.2,1.4,1.3]],[51,3.8,7.6,[.6,.3,.2,.4,.5]],[52,7.6,10,[.2,.3,.5,1.7]],[53,8.6,9.8,[2,1.3]],[54,4.8,5.6,3.7],[54,5.6,8.2,[2.2,1.5,1,1.3]],[54,8.6,9.8,1.7],
[55,5,8.6,[.6,.5,.9,1.7]],[55,0,4.8,[.5,1.8,1.4,1.1,.8,.9]],[56,5.6,8.4,[.5,.6,1,1.9]],[56,0,5,[.4,.5,.5,.8,.6]],[56,8.4,8.6,.6],[57,0,5.6,[.9,.5,.6,.6,.4,.3]],[57,8.4,8.6,.9],
[58,4,9.2,[.3,.4,.5,1.1,1.7,1]],[59,9.2,10.6,.5],[59,8.4,9.2,1.4]
];

const panelSegments = [atom1Segments, atom2Segments, atom3Segments, atom4Segments];
const panelNames = ["atom1", "atom2", "atom3", "atom4"];

const SVG_NS = "http://www.w3.org/2000/svg";
const plotW = 671, plotH = 426, cbW = 51;

function jet(value) {
  const t = Math.max(0, Math.min(1, value / 5));
  const ch = (c) => Math.round(255 * Math.max(0, Math.min(1, Math.min(4 * t - c + 1.5, -4 * t + c + 1.5))));
  return "rgb(" + ch(3) + "," + ch(2) + "," + ch(1) + ")";
}
function make(tag, attrs, parent) {
  const el = document.createElementNS(SVG_NS, tag);
  for (const k in attrs) el.setAttribute(k, attrs[k]);
  parent.appendChild(el);
  return el;
}

panelSegments.forEach(function (segments, p) {
  const group = document.getElementById("panel-" + p);
  const left = p % 2 ? 1204.5 : 106;
  const top = p < 2 ? 58.5 : 650.5;
  const cbLeft = left + 722;
  const xScale = (lat) => left + (lat + 60) * plotW / 120;
  const yScale = (alt) => top + plotH - alt * plotH / 12;
  const cbScale = (v) => top + plotH - v * plotH / 5;

  const cells = make("g", { "shape-rendering": "crispEdges", style: "filter:blur(.6px)" }, group);
  
  
  segments.forEach(function (seg) {
    const lat = seg[0], low = seg[1], high = seg[2], vals = seg[3];
    const count = Math.max(1, Math.round((high - low) / 0.2));
    for (let k = 0; k < count; k++) {
      const v = Array.isArray(vals) ? vals[Math.floor(k * vals.length / count)] : vals;
      const zLow = low + k * (high - low) / count;
      const zHigh = low + (k + 1) * (high - low) / count;
      const cell = make("rect", {
        x: xScale(lat), y: yScale(zHigh),
        width: xScale(lat + 1) - xScale(lat),
        height: yScale(zLow) - yScale(zHigh) + 0.3,
        fill: jet(v)
      }, cells);
      
      
    }
  });

  const frame = make("rect", { x: left, y: top, width: plotW, height: plotH, fill: "none", stroke: "#3a3a3a", "stroke-width": 1.6 }, group);
  
  

  latTickValues.forEach(function (lat, i) {
    const x = xScale(lat);
    const tickMark = make("path", { d: "M" + x + " " + (top + plotH) + "v-7M" + x + " " + top + "v7", stroke: "#3a3a3a", "stroke-width": 1.5, fill: "none" }, group);
    
    
    const label = make("text", { x: x + (lat === 0 ? 0 : 5), y: top + plotH + 40, "text-anchor": "middle", class: "tick" }, group);
    label.textContent = latTickLabels[i];
    
    
  });

  altTickValues.forEach(function (alt) {
    const y = yScale(alt);
    const tickMark = make("path", { d: "M" + left + " " + y + "h7M" + (left + plotW) + " " + y + "h-7", stroke: "#3a3a3a", "stroke-width": 1.5, fill: "none" }, group);
    
    
    const label = make("text", { x: left - 10, y: y + 11, "text-anchor": "end", class: "tick" }, group);
    label.textContent = String(alt);
    
    
  });

  const bar = make("g", { "shape-rendering": "crispEdges" }, group);
  
  
  for (let i = 0; i < 64; i++) {
    const v0 = i * 5 / 64, v1 = (i + 1) * 5 / 64;
    const step = make("rect", { x: cbLeft, y: cbScale(v1), width: cbW, height: cbScale(v0) - cbScale(v1) + 0.5, fill: jet((v0 + v1) / 2) }, bar);
    
    
  }
  const cbFrame = make("rect", { x: cbLeft, y: top, width: cbW, height: plotH, fill: "none", stroke: "#3a3a3a", "stroke-width": 1.6 }, group);
  
  
  colorTickValues.forEach(function (v) {
    const y = cbScale(v);
    const tickMark = make("path", { d: "M" + (cbLeft + cbW) + " " + y + "h-4", stroke: "#3a3a3a", "stroke-width": 1.5, fill: "none" }, group);
    
    
    const label = make("text", { x: cbLeft + cbW + 11, y: y + 10, "text-anchor": "start", class: "tick", style: "font-size:26px" }, group);
    label.textContent = String(v);
    
    
  });
});
</script>
</body>
</html>
